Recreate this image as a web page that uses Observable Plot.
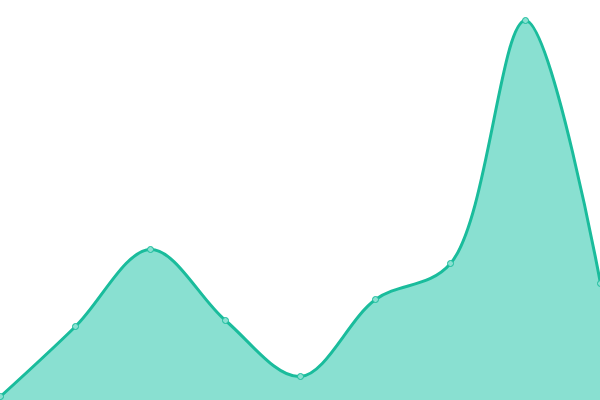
<!DOCTYPE html>
<html>
<head>
<meta charset="utf-8">
<script src="https://cdn.jsdelivr.net/npm/d3@7"></script>
<script src="https://cdn.jsdelivr.net/npm/@observablehq/plot@0.6"></script>
<style>
  html, body { margin: 0; padding: 0; background: #fff; }
  svg { display: block; }
</style>
</head>
<body>
<div id="chart"></div>
<script>
const xs = [0, 1, 2, 3, 4, 5, 6, 7, 8];
const values = [4, 74, 151, 80, 24, 101, 137, 380, 117];

const data = xs.map((x, i) => ({x, y: values[i]}));

const chart = Plot.plot({
  width: 600,
  height: 400,
  margin: 0,
  x: {domain: [0, 8], axis: null},
  y: {domain: [0, 400], axis: null},
  marks: [
    Plot.areaY(data, {x: "x", y: "y", curve: "catmull-rom", fill: "#89e0d1"}),
    Plot.lineY(data, {x: "x", y: "y", curve: "catmull-rom", stroke: "#1abc9c", strokeWidth: 3}),
    Plot.dot(data, {x: "x", y: "y", r: 3, fill: "#89e0d1", stroke: "#1abc9c", strokeWidth: 1})
  ]
});
document.getElementById("chart").appendChild(chart);
</script>
</body>
</html>
